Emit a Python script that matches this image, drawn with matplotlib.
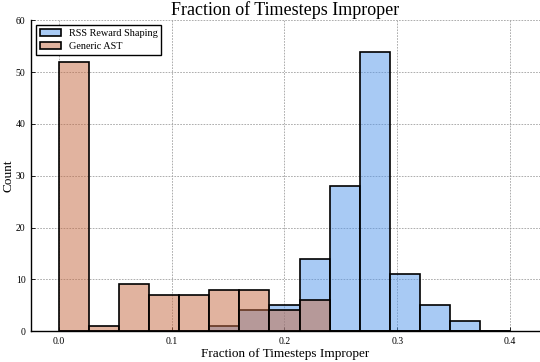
import numpy as np
import matplotlib
matplotlib.use("Agg")
import matplotlib.pyplot as plt

# --- Data (histogram counts) ---
bin_edges = np.linspace(0.0, 0.4, 16)  # 15 bins of width 0.4/15
rss_counts = [0, 0, 0, 0, 0, 1, 4, 5, 14, 28, 54, 11, 5, 2, 0]
ast_counts = [52, 1, 9, 7, 7, 8, 8, 4, 6, 0, 0, 0, 0, 0, 0]
x_ticks = [0.0, 0.1, 0.2, 0.3, 0.4]
y_ticks = [0, 10, 20, 30, 40, 50, 60]

plt.rcParams['font.family'] = ['Liberation Serif', 'DejaVu Serif']

fig = plt.figure(figsize=(5.4, 3.62), dpi=100)
ax = fig.add_axes([0.0574, 0.0856, 0.9426, 0.8578])

blue = (0.32, 0.59, 0.92, 0.5)
orange = (0.77, 0.41, 0.25, 0.5)

# draw histograms from the counts
ax.hist(bin_edges[:-1], bins=bin_edges, weights=rss_counts, color=blue,
        edgecolor='black', linewidth=1.2, label='RSS Reward Shaping', zorder=2)
ax.hist(bin_edges[:-1], bins=bin_edges, weights=ast_counts, color=orange,
        edgecolor='black', linewidth=1.2, label='Generic AST', zorder=3)

ax.set_xlim(-0.0249, 0.4267)
ax.set_ylim(0, 60)
ax.set_xticks(x_ticks)
ax.set_xticklabels([f"{t:.1f}" for t in x_ticks])
ax.set_yticks(y_ticks)

ax.grid(True, linestyle=(0, (2, 1.5)), color='#a0a0a0', linewidth=0.6, zorder=0)
ax.set_axisbelow(True)

for side in ['top', 'right']:
    ax.spines[side].set_visible(False)
for side in ['left', 'bottom']:
    ax.spines[side].set_linewidth(1.0)

ax.tick_params(direction='in', length=3, width=0.6, labelsize=7, pad=4)

ax.set_title('Fraction of Timesteps Improper', fontsize=13, pad=4)
ax.set_xlabel('Fraction of Timesteps Improper', fontsize=9.5, labelpad=2)
ax.set_ylabel('Count', fontsize=9.5, labelpad=1)

leg = ax.legend(loc='upper left', fontsize=7.4, fancybox=False, framealpha=1,
                edgecolor='black', borderaxespad=0.45, handlelength=2.1,
                handleheight=0.6, handletextpad=0.7, borderpad=0.4,
                labelspacing=0.4)
leg.get_frame().set_linewidth(1.0)
leg.set_zorder(10)

fig.savefig('out.png', dpi=100)
